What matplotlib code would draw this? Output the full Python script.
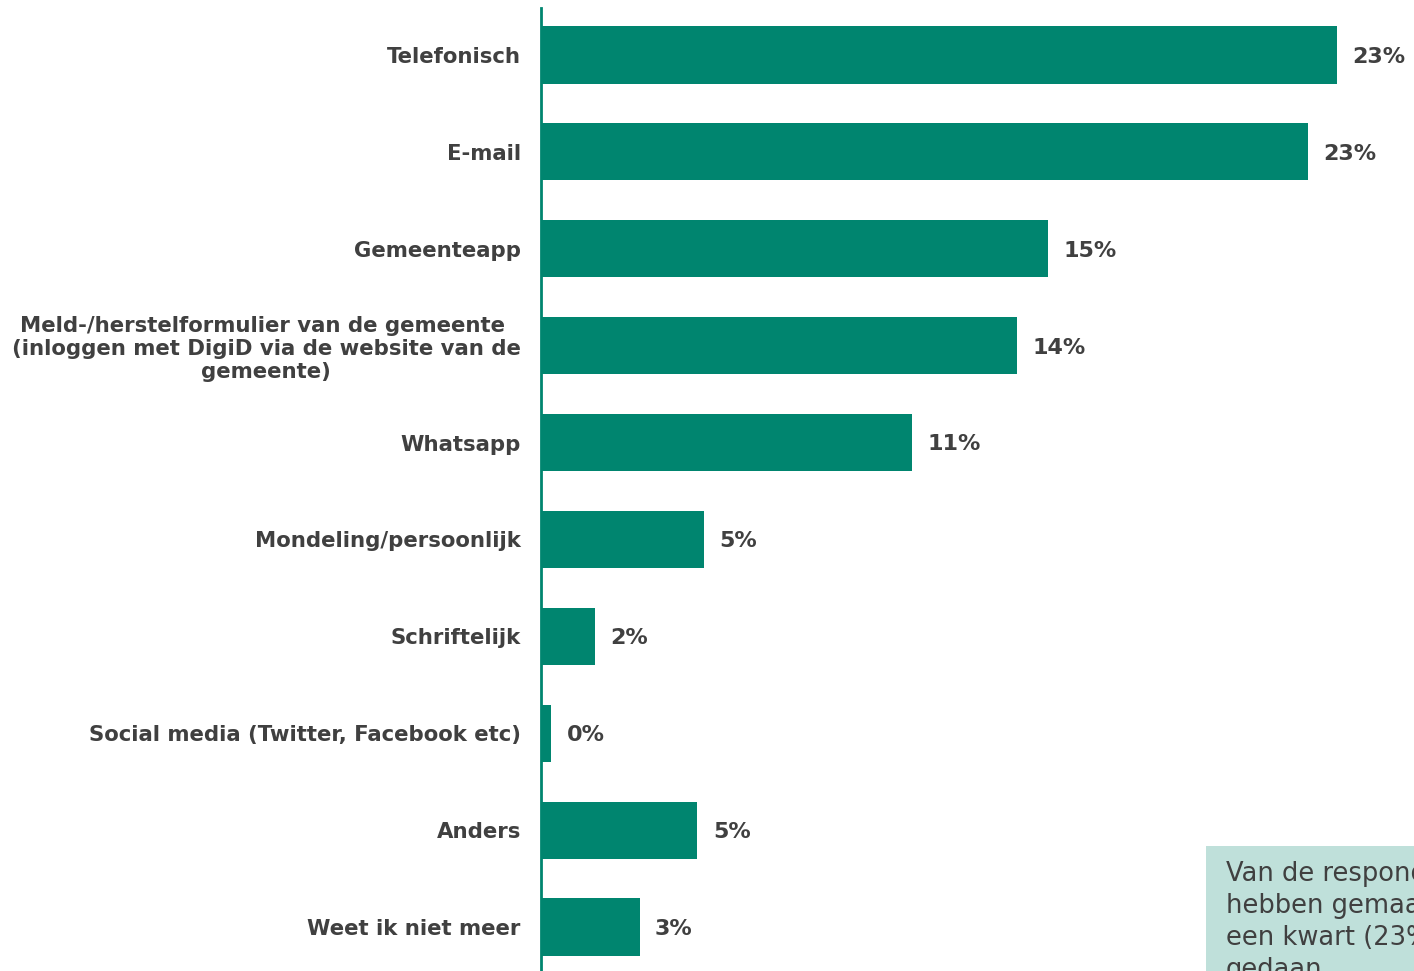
import matplotlib.pyplot as plt
from matplotlib.patches import Rectangle
import numpy as np

# melding channels, top to bottom
categories = [
    "Telefonisch",
    "E-mail",
    "Gemeenteapp",
    "Meld-/herstelformulier van de gemeente \n(inloggen met DigiD via de website van de\ngemeente)",
    "Whatsapp",
    "Mondeling/persoonlijk",
    "Schriftelijk",
    "Social media (Twitter, Facebook etc)",
    "Anders",
    "Weet ik niet meer",
]
shares = [23.4, 22.55, 14.9, 14.0, 10.9, 4.8, 1.6, 0.3, 4.6, 2.9]

note = ("Van de respondenten die een melding\n"
        "hebben gemaakt, heeft bijna\n"
        "een kwart (23%) dit telefonisch\n"
        "gedaan.")

teal = "#00856f"
grey = "#404040"

fig = plt.figure(figsize=(14.14, 9.71), dpi=100)
ax = fig.add_axes([541 / 1414, 0, 1 - 541 / 1414, 1 - 8 / 971])

y = np.arange(len(categories))
ax.barh(y, shares, height=0.59, color=teal)
ax.set_ylim(9.454, -0.485)
ax.set_xlim(0, 873 / (796 / 23.4))

for yi, v in zip(y, shares):
    ax.text(v + 0.45, yi + 0.02, f"{v:.0f}%", va="center", ha="left",
            fontsize=16, fontweight="bold", color=grey)

ax.set_yticks(y)
ax.set_yticklabels(categories, fontsize=15.3, fontweight="bold", color=grey,
                   linespacing=1.2, multialignment="center")
ax.tick_params(axis="y", length=0, pad=14.5)
ax.set_xticks([])

for s in ["top", "right", "bottom"]:
    ax.spines[s].set_visible(False)
ax.spines["left"].set_color(teal)
ax.spines["left"].set_linewidth(2)

# side note box, runs off the page edge
fig.patches.append(Rectangle((1206 / 1414, 0), 0.2, (971 - 846) / 971,
                             transform=fig.transFigure, facecolor="#bfe0da",
                             edgecolor="none"))
fig.text(1226 / 1414, 1 - 861 / 971, note, fontsize=18.5, color=grey,
         va="top", ha="left", linespacing=1.3)

fig.savefig("out.png", dpi=100)
